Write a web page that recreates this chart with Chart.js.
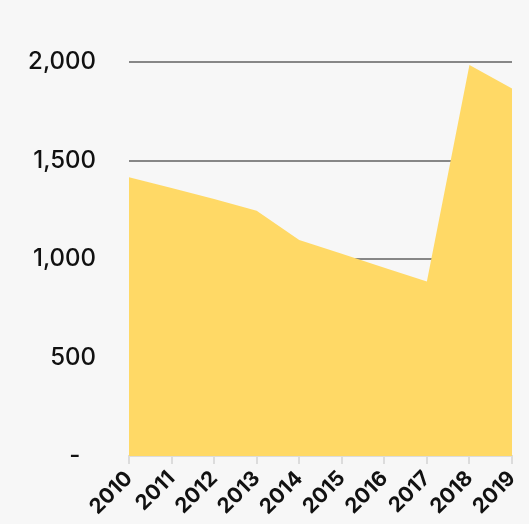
<!DOCTYPE html>
<html>
<head>
<meta charset="utf-8">
<script src="https://cdn.jsdelivr.net/npm/chart.js@4/dist/chart.umd.min.js"></script>
<style>
  html, body { margin: 0; padding: 0; background: #f7f7f7; overflow: hidden; }
  #wrap { width: 529px; height: 524px; }
</style>
</head>
<body>
<div id="wrap"><canvas id="areaChart" width="529" height="524"></canvas></div>
<script>
var years = ['2010', '2011', '2012', '2013', '2014', '2015', '2016', '2017', '2018', '2019'];
var totals = [1415, 1360, 1305, 1245, 1097, 1027, 956, 886, 1985, 1865];
var yTicks = [0, 500, 1000, 1500, 2000];

var ctx = document.getElementById('areaChart');
var myChart = new Chart(ctx, {
    type: 'line',
    data: {
        labels: years,
        datasets: [
            {
                label: 'Total',
                data: totals,
                fill: 'origin',
                backgroundColor: '#FFD966',
                borderWidth: 0,
                pointRadius: 0,
                tension: 0
            }
        ]
    },
    options: {
        responsive: false,
        animation: false,
        layout: {
            padding: { top: 62, right: 17, left: 0, bottom: 0 }
        },
        plugins: {
            legend: { display: false },
            tooltip: { enabled: false }
        },
        scales: {
            x: {
                offset: false,
                grid: {
                    drawOnChartArea: false,
                    drawTicks: true,
                    tickLength: 8,
                    color: '#dcdcdc',
                    lineWidth: 2
                },
                border: { color: '#dcdcdc', width: 2 },
                ticks: {
                    autoSkip: false,
                    minRotation: 45,
                    maxRotation: 45,
                    padding: 2,
                    color: '#111',
                    font: { family: 'Inter', size: 21, weight: 'bold' }
                },
                afterFit: function(scale) {
                    scale.height = 68;
                    scale.paddingRight = 0;
                    scale.paddingLeft = 0;
                }
            },
            y: {
                min: 0,
                max: 2000,
                afterBuildTicks: function(scale) {
                    scale.ticks = yTicks.map(function(v) { return { value: v }; });
                },
                grid: {
                    drawTicks: false,
                    lineWidth: 2,
                    color: function(c) { return c.tick && c.tick.value === 0 ? 'rgba(0,0,0,0)' : '#878787'; }
                },
                border: { display: false },
                ticks: {
                    padding: 33,
                    color: '#111',
                    font: { family: 'Inter', size: 24, weight: '500' },
                    callback: function(v) { return v === 0 ? '-\u2007' : v.toLocaleString('en-US'); }
                },
                afterFit: function(scale) { scale.width = 129; }
            }
        }
    }
});
</script>
</body>
</html>
